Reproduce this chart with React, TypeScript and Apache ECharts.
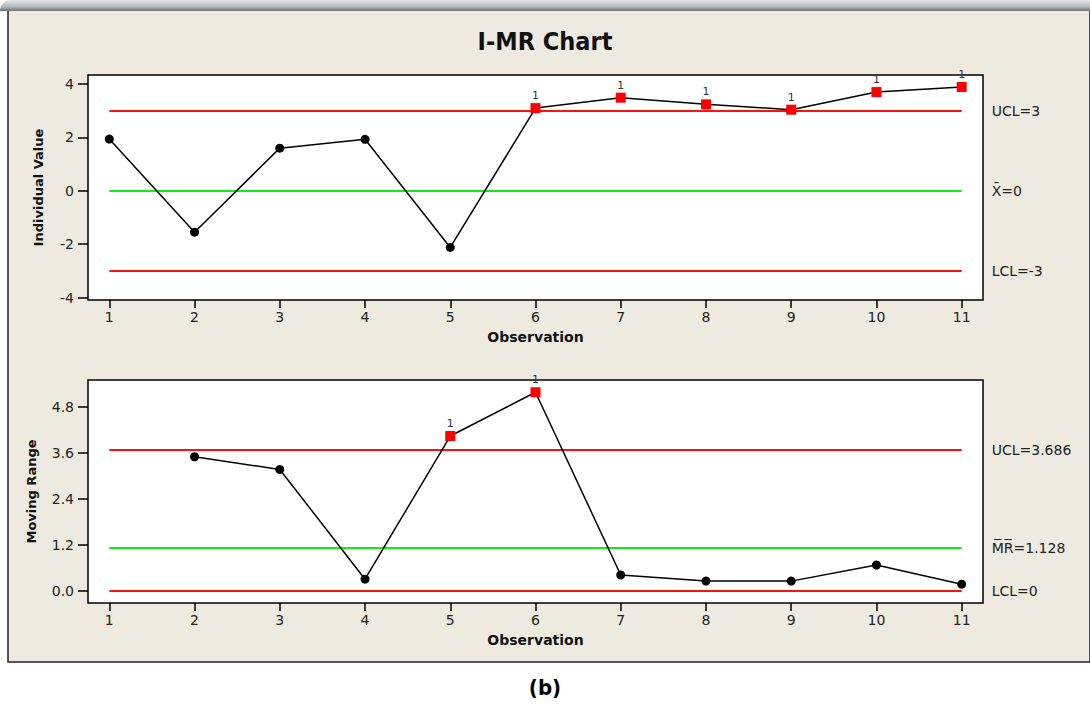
import React, { useEffect, useRef } from "react";
import * as echarts from "echarts";

const observations = [1, 2, 3, 4, 5, 6, 7, 8, 9, 10, 11];
const individualValues = [1.94, -1.55, 1.6, 1.93, -2.12, 3.1, 3.49, 3.24, 3.04, 3.7, 3.89];
const movingRanges: (number | null)[] = [null, 3.5, 3.17, 0.31, 4.04, 5.18, 0.42, 0.26, 0.26, 0.68, 0.18];
const xTicks = [1, 2, 3, 4, 5, 6, 7, 8, 9, 10, 11];
const iTicks = [-4, -2, 0, 2, 4];
const mrTicks = [0, 1.2, 2.4, 3.6, 4.8];
const iLimitValues = [3, 0, -3];
const iLimitLabels = ["UCL=3", "X\u0304=0", "LCL=-3"];
const mrLimitValues = [3.686, 1.128, 0];
const mrLimitLabels = ["UCL=3.686", "M\u0305R\u0305=1.128", "LCL=0"];
const limitColors = ["#ff1010", "#10ee10", "#ff1010"];

const FONT = "'DejaVu Sans', Verdana, sans-serif";

function pointData(vals: (number | null)[], ucl: number, lcl: number) {
  const out: any[] = [];
  vals.forEach((v, i) => {
    if (v === null) return;
    const bad = v > ucl || v < lcl;
    out.push(
      bad
        ? {
            value: [observations[i], v],
            symbol: "rect",
            symbolSize: 10,
            itemStyle: { color: "#ff0000" },
            label: {
              show: true,
              position: "top",
              distance: 2,
              formatter: "1",
              fontSize: 11,
              color: "#333",
              fontFamily: FONT,
            },
          }
        : { value: [observations[i], v] }
    );
  });
  return out;
}

function limitLines(values: number[], labels: string[]) {
  return values.map((v, i) => [
    {
      coord: [observations[0], v],
      lineStyle: { color: limitColors[i], width: 1.8, type: "solid" },
      label: {
        show: true,
        position: "end",
        distance: 30,
        formatter: labels[i],
        color: "#222",
        fontSize: 14,
        fontFamily: FONT,
      },
    },
    { coord: [observations[observations.length - 1], v] },
  ]);
}

export default function App() {
  const ref = useRef<HTMLDivElement>(null);
  useEffect(() => {
    document.body.style.margin = "0";
    const chart = echarts.init(ref.current!, undefined, { renderer: "svg" });
    const xAxisBase = (gridIndex: number) => ({
      type: "value",
      gridIndex,
      min: 0.75,
      max: 11.25,
      name: "Observation",
      nameLocation: "middle",
      nameGap: 30,
      nameTextStyle: { fontFamily: FONT, fontWeight: "bold", fontSize: 14, color: "#111" },
      axisLine: { show: false, onZero: false },
      splitLine: { show: false },
      axisTick: { show: true, length: 8, customValues: xTicks, lineStyle: { color: "#000", width: 1.5 } },
      axisLabel: { customValues: xTicks, fontFamily: FONT, fontSize: 14, color: "#222", margin: 10 },
    });
    const yAxisBase = (gridIndex: number, min: number, max: number, ticks: number[], name: string, dec: number, gap: number) => ({
      type: "value",
      gridIndex,
      min,
      max,
      name,
      nameLocation: "middle",
      nameRotate: 90,
      nameGap: gap,
      nameTextStyle: { fontFamily: FONT, fontWeight: "bold", fontSize: 13, color: "#111" },
      axisLine: { show: false, onZero: false },
      splitLine: { show: false },
      axisTick: { show: true, length: 10, customValues: ticks, lineStyle: { color: "#000", width: 1.5 } },
      axisLabel: {
        customValues: ticks,
        fontFamily: FONT,
        fontSize: 14,
        color: "#222",
        margin: 14,
        formatter: (v: number) => v.toFixed(dec),
      },
    });
    const lineSeries = (idx: number, vals: (number | null)[], ucl: number, lcl: number, limVals: number[], limLabels: string[]) => ({
      type: "line",
      xAxisIndex: idx,
      yAxisIndex: idx,
      data: pointData(vals, ucl, lcl),
      symbol: "circle",
      symbolSize: 9,
      itemStyle: { color: "#000" },
      lineStyle: { color: "#000", width: 1.5 },
      z: 5,
      markLine: {
        silent: true,
        symbol: "none",
        data: limitLines(limVals, limLabels),
        z: 2,
      },
    });
    chart.setOption({
      animation: false,
      backgroundColor: "#ffffff",
      title: {
        text: "I-MR Chart",
        left: "center",
        top: 24,
        textStyle: { fontFamily: "'DejaVu Sans Condensed', 'DejaVu Sans', sans-serif", fontWeight: "bold", fontSize: 25, color: "#111" },
      },
      graphic: [
        {
          type: "rect",
          z: -10,
          silent: true,
          shape: { x: 8, y: 8, width: 1082, height: 654 },
          style: { fill: "#eeeae0", stroke: "#222", lineWidth: 1.5 },
        },
        {
          type: "rect",
          z: -9,
          silent: true,
          shape: { x: 0, y: 0, width: 1090, height: 11, r: [10, 0, 0, 0] },
          style: {
            fill: new echarts.graphic.LinearGradient(0, 0, 0, 1, [
              { offset: 0, color: "#e2e5ea" },
              { offset: 0.6, color: "#b4b8be" },
              { offset: 1, color: "#6d7177" },
            ]),
          },
        },
        {
          type: "text",
          left: "center",
          top: 676,
          style: {
            text: "(b)",
            fontFamily: "'DejaVu Sans Condensed', 'DejaVu Sans', sans-serif",
            fontWeight: "bold",
            fontSize: 22,
            fill: "#000",
          },
        },
      ],
      grid: [
        { left: 88, top: 75, width: 895, height: 225, show: true, backgroundColor: "#fff", borderColor: "#000", borderWidth: 1.5 },
        { left: 88, top: 380, width: 895, height: 223, show: true, backgroundColor: "#fff", borderColor: "#000", borderWidth: 1.5 },
      ],
      xAxis: [xAxisBase(0), xAxisBase(1)],
      yAxis: [
        yAxisBase(0, -4.09, 4.34, iTicks, "Individual Value", 0, 43),
        yAxisBase(1, -0.31, 5.5, mrTicks, "Moving Range", 1, 50),
      ],
      series: [
        lineSeries(0, individualValues, iLimitValues[0], iLimitValues[2], iLimitValues, iLimitLabels),
        lineSeries(1, movingRanges, mrLimitValues[0], mrLimitValues[2], mrLimitValues, mrLimitLabels),
      ],
    });
    return () => chart.dispose();
  }, []);
  return <div ref={ref} style={{ width: 1090, height: 719 }} />;
}
